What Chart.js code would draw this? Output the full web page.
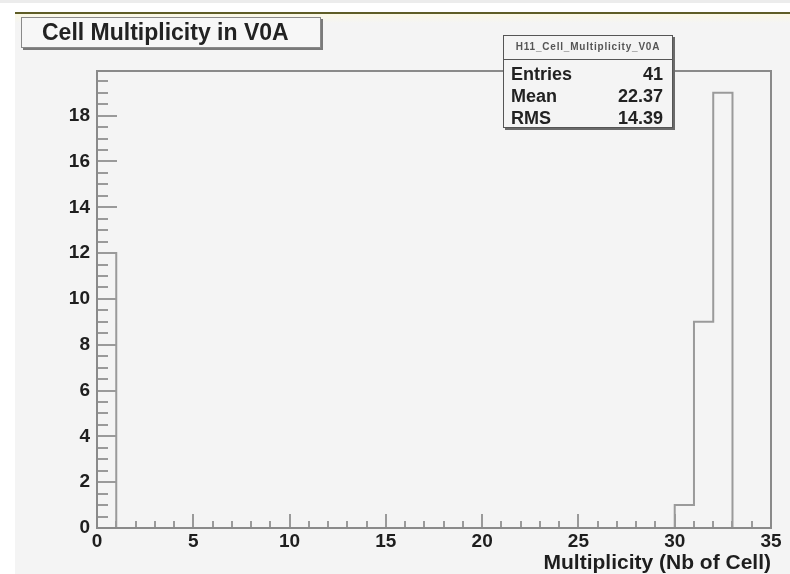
<!DOCTYPE html>
<html>
<head>
<meta charset="utf-8">
<title>Cell Multiplicity in V0A</title>
<script src="https://cdn.jsdelivr.net/npm/chart.js@4/dist/chart.umd.min.js"></script>
<style>
  html, body { margin: 0; padding: 0; width: 790px; height: 574px; overflow: hidden; background: #ffffff;
    font-family: "Liberation Sans", Arial, Helvetica, sans-serif; }
  #strip { position: absolute; left: 0; top: 0; width: 790px; height: 3px; background: #ececec; }
  #pad { position: absolute; left: 15px; top: 12px; width: 775px; height: 562px;
    border-top: 2px solid #5f5d26; background: linear-gradient(#fbf8e4 0px, #f4f4f4 9px); }
  #plot { position: absolute; left: 0; top: 0; }
  #title { position: absolute; left: 21px; top: 17px; width: 300px; height: 31px; box-sizing: border-box;
    border: 1px solid #8a8a8a; box-shadow: 2px 2px 0 #7a7a7a; background: #f7f7f7;
    font-weight: bold; font-size: 23px; line-height: 29px; padding-left: 20px; color: #222; white-space: nowrap; }
  #stats { position: absolute; left: 503px; top: 35px; width: 170px; height: 93px; box-sizing: border-box;
    border: 1px solid #555; box-shadow: 2px 2px 0 #6a6a6a; background: #f4f4f4; color: #222; }
  #stats .head { height: 24px; border-bottom: 1px solid #555; box-sizing: border-box; text-align: center;
    font-size: 10px; font-weight: bold; line-height: 22px; letter-spacing: 0.8px; color: #555; white-space: nowrap; }
  #stats .rows { padding-top: 3px; }
  #stats .row { display: flex; justify-content: space-between; height: 22px; line-height: 22px;
    font-size: 18px; font-weight: bold; padding: 0 9px 0 7px; }
</style>
</head>
<body>
<div id="strip"></div>
<div id="pad"></div>
<canvas id="plot" width="790" height="574"></canvas>
<div id="title"></div>
<div id="stats"><div class="head" id="statsHead"></div><div class="rows" id="statsRows"></div></div>
<script>
// Histogram: number of fired cells in V0A, one bin per cell count (0..35)
const histName = "H11_Cell_Multiplicity_V0A";
const histTitle = "Cell Multiplicity in V0A";
const xAxisTitle = "Multiplicity (Nb of Cell)";

const binCounts = [
  12, 0, 0, 0, 0, 0, 0, 0, 0, 0,
   0, 0, 0, 0, 0, 0, 0, 0, 0, 0,
   0, 0, 0, 0, 0, 0, 0, 0, 0, 0,
   1, 9, 19, 0, 0
];
const xTicks = [0, 5, 10, 15, 20, 25, 30, 35];
const yTicks = [0, 2, 4, 6, 8, 10, 12, 14, 16, 18];

const statNames = ["Entries", "Mean", "RMS"];
const statValues = ["41", "22.37", "14.39"];

// title and statistics boxes
document.getElementById('title').textContent = histTitle;
document.getElementById('statsHead').textContent = histName;
const rowsEl = document.getElementById('statsRows');
statNames.forEach((n, i) => {
  const r = document.createElement('div');
  r.className = 'row';
  const a = document.createElement('span'); a.textContent = n;
  const b = document.createElement('span'); b.textContent = statValues[i];
  r.appendChild(a); r.appendChild(b);
  rowsEl.appendChild(r);
});

// outline of the histogram: each point opens a bin at its low edge,
// the line runs flat across the bin and then steps to the next count
const outline = [{ x: 0, y: 0 }];
binCounts.forEach((c, i) => outline.push({ x: i, y: c }));
outline.push({ x: binCounts.length, y: 0 });

const tickFont = { family: '"Liberation Sans", Arial, Helvetica, sans-serif', size: 19, weight: 'bold' };

// ROOT-style frame with tick marks pointing into the plot area
const frameTicks = {
  id: 'frameTicks',
  afterDatasetsDraw(chart) {
    const { ctx, chartArea: { left, right, top, bottom }, scales: { x, y } } = chart;
    ctx.save();
    ctx.strokeStyle = '#9a9a9a';
    ctx.lineWidth = 2;
    ctx.beginPath();
    for (let v = x.min; v <= x.max + 1e-9; v += 1) {
      const px = Math.round(x.getPixelForValue(v));
      const len = (Math.round(v) % 5 === 0) ? 14 : 7;
      ctx.moveTo(px, bottom); ctx.lineTo(px, bottom - len);
    }
    for (let v = y.min; v <= y.max + 1e-9; v += 0.5) {
      const py = Math.round(y.getPixelForValue(v));
      const len = (Math.abs(v / 2 - Math.round(v / 2)) < 1e-9) ? 20 : 11;
      ctx.moveTo(left, py); ctx.lineTo(left + len, py);
    }
    ctx.stroke();
    ctx.strokeStyle = '#8a8a8a';
    ctx.strokeRect(left, top, right - left, bottom - top);
    ctx.restore();
  }
};

new Chart(document.getElementById('plot'), {
  type: 'line',
  data: {
    datasets: [{
      label: histName,
      data: outline,
      stepped: 'before',
      borderColor: '#9a9a9a',
      borderWidth: 2,
      pointRadius: 0,
      fill: false,
      borderJoinStyle: 'miter'
    }]
  },
  options: {
    responsive: false,
    animation: false,
    events: [],
    layout: { padding: { top: 71, right: 19, bottom: 0, left: 0 } },
    plugins: { legend: { display: false }, tooltip: { enabled: false }, title: { display: false } },
    scales: {
      x: {
        type: 'linear',
        min: 0,
        max: 35,
        afterBuildTicks: s => { s.ticks = xTicks.map(v => ({ value: v })); },
        afterFit: s => { s.height = 46; },
        grid: { display: false, drawTicks: false },
        border: { display: false },
        ticks: { font: tickFont, color: '#1e1e1e', padding: 2, maxRotation: 0, autoSkip: false },
        title: {
          display: true,
          text: xAxisTitle,
          align: 'end',
          color: '#1e1e1e',
          font: { family: tickFont.family, size: 21, weight: 'bold', lineHeight: 1 },
          padding: { top: 0, bottom: 0 }
        }
      },
      y: {
        type: 'linear',
        min: 0,
        max: 19.95,
        afterBuildTicks: s => { s.ticks = yTicks.map(v => ({ value: v })); },
        afterFit: s => { s.width = 97; },
        grid: { display: false, drawTicks: false },
        border: { display: false },
        ticks: { font: tickFont, color: '#1e1e1e', padding: 7, autoSkip: false }
      }
    }
  },
  plugins: [frameTicks]
});
</script>
</body>
</html>
